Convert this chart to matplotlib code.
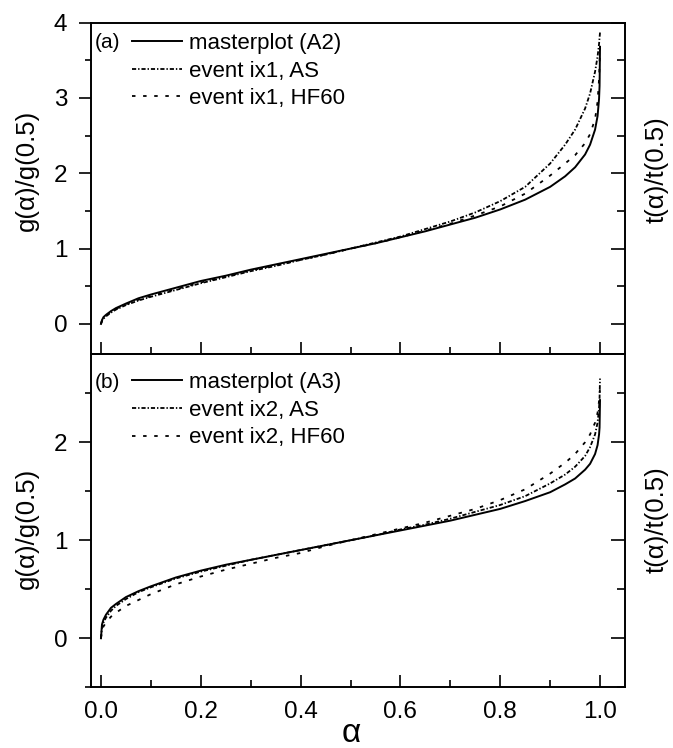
#!/usr/bin/env python3
"""Normalised g(alpha) masterplots vs two events, two stacked panels."""

import matplotlib

matplotlib.use("Agg")
import matplotlib.pyplot as plt
from matplotlib.ticker import MultipleLocator

plt.rcParams["font.family"] = ["Liberation Sans", "DejaVu Sans"]
plt.rcParams["lines.scale_dashes"] = False

# conversion fraction, shared by every curve
ALPHA = [0, 0.002, 0.005, 0.01, 0.02, 0.03, 0.05, 0.075, 0.1, 0.15, 0.2, 0.25,
         0.3, 0.35, 0.4, 0.45, 0.5, 0.55, 0.6, 0.65, 0.7, 0.75, 0.8, 0.85,
         0.9, 0.93, 0.95, 0.97, 0.98, 0.99, 0.995, 0.998, 0.999, 0.9999]

# panel (a): g(alpha)/g(0.5)
MASTER_A2 = [0, 0.05, 0.09, 0.12, 0.17, 0.21, 0.27, 0.34, 0.39, 0.48, 0.57, 0.64,
             0.72, 0.79, 0.86, 0.93, 1.00, 1.07, 1.15, 1.23, 1.32, 1.41, 1.52, 1.65,
             1.82, 1.96, 2.08, 2.25, 2.38, 2.58, 2.76, 2.99, 3.16, 3.68]
IX1_AS = [0, 0.04, 0.07, 0.10, 0.15, 0.19, 0.25, 0.31, 0.36, 0.45, 0.54, 0.62,
          0.70, 0.77, 0.85, 0.92, 1.00, 1.08, 1.16, 1.26, 1.36, 1.48, 1.63, 1.82,
          2.13, 2.38, 2.58, 2.86, 3.06, 3.35, 3.55, 3.72, 3.80, 3.87]
IX1_HF60 = [0, 0.04, 0.08, 0.11, 0.16, 0.20, 0.26, 0.32, 0.37, 0.46, 0.55, 0.63,
            0.71, 0.78, 0.85, 0.92, 1.00, 1.07, 1.15, 1.24, 1.33, 1.44, 1.56, 1.73,
            1.97, 2.13, 2.24, 2.40, 2.52, 2.72, 2.95, 3.25, 3.45, 3.72]

# panel (b)
MASTER_A3 = [0, 0.14, 0.19, 0.24, 0.31, 0.35, 0.42, 0.48, 0.53, 0.62, 0.69, 0.75,
             0.80, 0.85, 0.90, 0.95, 1.00, 1.05, 1.10, 1.15, 1.20, 1.26, 1.32, 1.40,
             1.49, 1.57, 1.63, 1.72, 1.78, 1.88, 1.97, 2.08, 2.15, 2.43]
IX2_AS = [0, 0.11, 0.16, 0.21, 0.28, 0.33, 0.40, 0.47, 0.52, 0.61, 0.68, 0.74,
          0.80, 0.85, 0.90, 0.95, 1.00, 1.05, 1.11, 1.16, 1.22, 1.29, 1.36, 1.45,
          1.58, 1.67, 1.75, 1.86, 1.95, 2.08, 2.20, 2.35, 2.45, 2.65]
IX2_HF60 = [0, 0.08, 0.12, 0.16, 0.22, 0.26, 0.33, 0.39, 0.45, 0.55, 0.63, 0.70,
            0.76, 0.82, 0.87, 0.94, 1.00, 1.06, 1.12, 1.18, 1.25, 1.32, 1.41, 1.52,
            1.68, 1.79, 1.88, 2.00, 2.08, 2.20, 2.30, 2.42, 2.48, 2.56]

PANELS = [
    ("(a)", [MASTER_A2, IX1_AS, IX1_HF60],
     ["masterplot (A2)", "event ix1, AS", "event ix1, HF60"], (-0.4, 4.0)),
    ("(b)", [MASTER_A3, IX2_AS, IX2_HF60],
     ["masterplot (A3)", "event ix2, AS", "event ix2, HF60"], (-0.5, 2.9)),
]

STYLES = [
    dict(linestyle="-", linewidth=1.4),
    dict(linestyle=(0, (3.0, 1.4, 1.0, 1.4)), linewidth=1.3),
    dict(linestyle=(0, (2.5, 5.5)), linewidth=1.3),
]

FS = 16
TICK_FS = 17.5
LABEL_FS = 18.5


def style_axes(ax, bottom_labels):
    ax.set_xlim(-0.02, 1.05)
    ax.xaxis.set_major_locator(MultipleLocator(0.2))
    ax.xaxis.set_minor_locator(MultipleLocator(0.1))
    ax.yaxis.set_major_locator(MultipleLocator(1))
    ax.yaxis.set_minor_locator(MultipleLocator(0.5))
    for side in ax.spines.values():
        side.set_linewidth(1.2)
    ax.tick_params(axis="x", which="both", direction="in", top=False,
                   labelbottom=bottom_labels, labelsize=TICK_FS, pad=10, width=1.2)
    ax.tick_params(axis="x", which="major", length=9)
    ax.tick_params(axis="x", which="minor", length=5)
    ax.tick_params(axis="y", which="both", left=True, right=False,
                   direction="out", labelsize=TICK_FS, pad=8, width=1.2)
    ax.tick_params(axis="y", which="major", length=9)
    ax.tick_params(axis="y", which="minor", length=4.5)
    # inward ticks on the right-hand (t/t0.5) side, no labels
    rax = ax.twinx()
    rax.set_ylim(ax.get_ylim())
    rax.yaxis.set_major_locator(MultipleLocator(1))
    rax.yaxis.set_minor_locator(MultipleLocator(0.5))
    rax.tick_params(axis="y", which="both", direction="in", labelright=False,
                    width=1.2)
    rax.tick_params(axis="y", which="major", length=10)
    rax.tick_params(axis="y", which="minor", length=5.5)
    for side in rax.spines.values():
        side.set_linewidth(1.2)


fig = plt.figure(figsize=(6.73, 7.48), dpi=100)
ax_a = fig.add_axes([0.1352, 0.5267, 0.7935, 0.4430])
ax_b = fig.add_axes([0.1352, 0.0812, 0.7935, 0.4455])

for ax, (tag, series, labels, ylim), is_bottom in zip(
        [ax_a, ax_b], PANELS, [False, True]):
    for values, label, st in zip(series, labels, STYLES):
        ax.plot(ALPHA, values, color="black", label=label, **st)
    ax.set_ylim(*ylim)
    style_axes(ax, is_bottom)
    ax.legend(loc="upper left", frameon=False, fontsize=FS,
              bbox_to_anchor=(0.076, 0.969 if tag == "(a)" else 0.946),
              borderpad=0, borderaxespad=0, handlelength=2.25,
              handletextpad=0.35, labelspacing=0.30)
    ax.text(0.0075, 0.9387 if tag == "(a)" else 0.916, tag, transform=ax.transAxes,
            fontsize=15, ha="left", va="center")

fig.text(27 / 673, 1 - 170 / 748, "g(\u03b1)/g(0.5)", rotation=90,
         ha="center", va="center", fontsize=LABEL_FS)
fig.text(27 / 673, 1 - 528 / 748, "g(\u03b1)/g(0.5)", rotation=90,
         ha="center", va="center", fontsize=LABEL_FS)
fig.text(657 / 673, 1 - 170 / 748, "t(\u03b1)/t(0.5)", rotation=90,
         ha="center", va="center", fontsize=LABEL_FS)
fig.text(657 / 673, 1 - 520 / 748, "t(\u03b1)/t(0.5)", rotation=90,
         ha="center", va="center", fontsize=LABEL_FS)
fig.text(351 / 673, 1 - 733 / 748, "\u03b1", ha="center", va="center",
         fontsize=24)

fig.savefig("out.png", dpi=100)
